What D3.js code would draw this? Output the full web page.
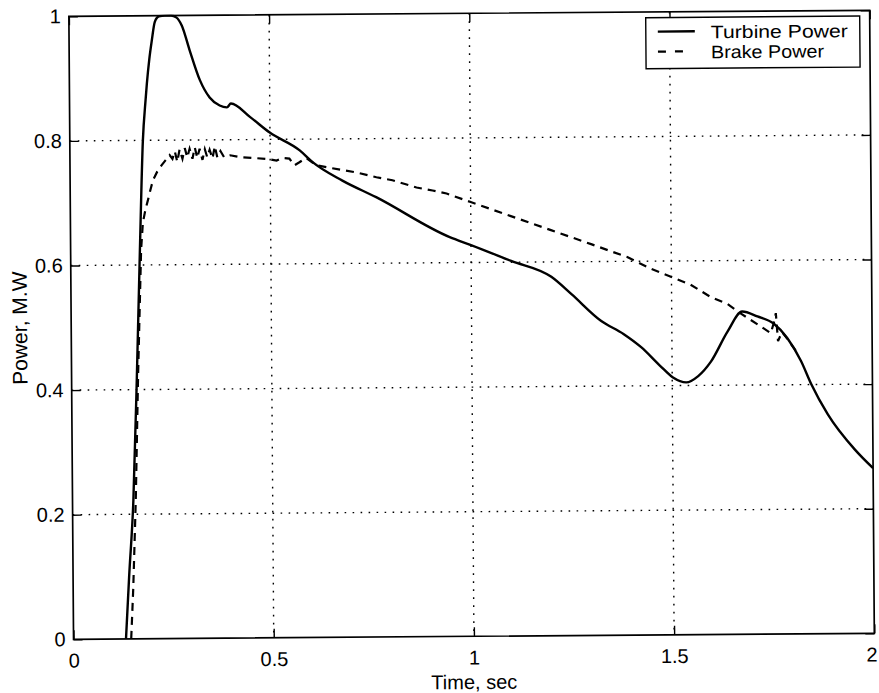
<!DOCTYPE html>
<html>
<head>
<meta charset="utf-8">
<script src="https://cdn.jsdelivr.net/npm/d3@7"></script>
<style>
  html, body { margin: 0; padding: 0; background: #fff; }
  svg { display: block; }
  text { font-family: "Liberation Sans", Arial, Helvetica, sans-serif; fill: #000; }
</style>
</head>
<body>
<svg id="chart" width="879" height="693"></svg>
<script>
// Turbine and brake power traces, [time (s), power (MW)]
const turbinePower = [
  [0.131,0],[0.140,0.10],[0.152,0.222],[0.163,0.42],[0.173,0.624],[0.1825,0.80],
  [0.190,0.865],[0.1935,0.891],[0.200,0.930],[0.2066,0.960],[0.2145,0.990],[0.225,0.999],
  [0.240,1.0],[0.255,1.0],[0.268,0.997],[0.2817,0.984],[0.301,0.944],[0.326,0.896],
  [0.350,0.868],[0.375,0.855],[0.393,0.852],[0.403,0.858],[0.451,0.836],[0.4995,0.811],
  [0.574,0.782],[0.606,0.763],[0.680,0.733],[0.764,0.706],[0.947,0.641],[1.0,0.628],
  [1.1,0.602],[1.2,0.576],[1.25,0.548],[1.323,0.505],[1.38,0.483],[1.423,0.462],
  [1.47,0.432],[1.502,0.413],[1.535,0.405],[1.565,0.415],[1.597,0.438],[1.639,0.486],
  [1.676,0.518],[1.714,0.510],[1.755,0.498],[1.788,0.475],[1.822,0.438],[1.847,0.401],
  [1.888,0.352],[1.955,0.295],[2.0,0.265]
];
const brakePower = [
  [0.144,0],[0.150,0.08],[0.158,0.222],[0.166,0.42],[0.176,0.624],[0.181,0.668],
  [0.188,0.690],[0.194,0.704],[0.201,0.722],[0.207,0.736],[0.218,0.750],[0.229,0.760],
  [0.239,0.768],[0.249,0.776],[0.256,0.770],[0.262,0.782],[0.268,0.765],[0.274,0.785],
  [0.281,0.770],[0.287,0.787],[0.293,0.772],[0.299,0.786],[0.306,0.770],[0.312,0.788],
  [0.318,0.771],[0.324,0.786],[0.331,0.768],[0.337,0.785],[0.343,0.772],[0.349,0.784],
  [0.356,0.770],[0.362,0.790],[0.368,0.772],[0.376,0.782],[0.385,0.772],[0.400,0.775],
  [0.424,0.772],[0.466,0.770],[0.500,0.768],[0.516,0.766],[0.530,0.770],[0.548,0.769],
  [0.560,0.758],[0.573,0.763],[0.590,0.770],[0.615,0.758],[0.655,0.753],[0.715,0.746],
  [0.765,0.738],[0.805,0.733],[0.865,0.721],[0.905,0.716],[0.940,0.711],[1.0,0.697],
  [1.1,0.674],[1.2,0.651],[1.3,0.628],[1.355,0.615],[1.39,0.607],[1.448,0.588],
  [1.497,0.575],[1.547,0.562],[1.597,0.542],[1.640,0.530],[1.672,0.515],[1.722,0.494],
  [1.747,0.483],[1.755,0.500],[1.760,0.515],[1.765,0.470],[1.775,0.485],[1.789,0.473],
  [1.814,0.450]
];
const xTicks = [0, 0.5, 1, 1.5, 2];
const yTicks = [0, 0.2, 0.4, 0.6, 0.8, 1];
const legendLabels = ["Turbine Power", "Brake Power"];
const xLabel = "Time, sec";
const yLabel = "Power, M.W";

const svg = d3.select("#chart");
const L = 71.2, R = 872, T = 13.3, B = 636.3;
const cx = (L + R) / 2, cy = (T + B) / 2;

const x = d3.scaleLinear().domain([0, 2]).range([L, R]);
const y = d3.scaleLinear().domain([0, 1]).range([B, T]);

// the printed figure sits slightly askew on the page
const g = svg.append("g").attr("transform", `rotate(-0.43, ${cx}, ${cy})`);

svg.append("defs").append("clipPath").attr("id", "plotClip")
  .append("rect").attr("x", L).attr("y", T - 1).attr("width", R - L).attr("height", B - T + 1);

// dotted grid
const grid = g.append("g").attr("stroke", "#000").attr("stroke-width", 1.4)
  .attr("stroke-dasharray", "1.6,6.4").attr("fill", "none");
xTicks.slice(1, -1).forEach(t => {
  grid.append("line").attr("x1", x(t)).attr("x2", x(t)).attr("y1", T).attr("y2", B);
});
yTicks.slice(1, -1).forEach(t => {
  grid.append("line").attr("x1", L).attr("x2", R).attr("y1", y(t)).attr("y2", y(t));
});

// curves
const lineGen = d3.line().x(d => x(d[0])).y(d => y(d[1]));
const plot = g.append("g").attr("clip-path", "url(#plotClip)");
plot.append("path").datum(brakePower)
  .attr("d", lineGen.curve(d3.curveLinear))
  .attr("fill", "none").attr("stroke", "#000").attr("stroke-width", 2.2)
  .attr("stroke-dasharray", "8,6");
plot.append("path").datum(turbinePower)
  .attr("d", lineGen.curve(d3.curveMonotoneX))
  .attr("fill", "none").attr("stroke", "#000").attr("stroke-width", 2.4);

// axes with inward ticks on all four sides
const tickLen = 9;
const axBottom = d3.axisBottom(x).tickValues(xTicks).tickSize(-tickLen).tickPadding(14)
  .tickFormat(d => String(d));
const axTop = d3.axisTop(x).tickValues(xTicks).tickSize(-tickLen).tickFormat("");
const axLeft = d3.axisLeft(y).tickValues(yTicks).tickSize(-tickLen).tickPadding(8)
  .tickFormat(d => String(d));
const axRight = d3.axisRight(y).tickValues(yTicks).tickSize(-tickLen).tickFormat("");

function styleAxis(sel) {
  sel.select(".domain").remove();
  sel.selectAll(".tick line").attr("stroke", "#000").attr("stroke-width", 1.4);
  sel.selectAll(".tick text").style("font-size", "20px").attr("fill", "#000");
}
g.append("g").attr("transform", `translate(0,${B})`).call(axBottom).call(styleAxis)
  .selectAll(".tick text").attr("dx", d => d === 2 ? "-3" : null);
g.append("g").attr("transform", `translate(0,${T})`).call(axTop).call(styleAxis);
g.append("g").attr("transform", `translate(${L},0)`).call(axLeft).call(styleAxis);
g.append("g").attr("transform", `translate(${R},0)`).call(axRight).call(styleAxis);

// frame
g.append("rect").attr("x", L).attr("y", T).attr("width", R - L).attr("height", B - T)
  .attr("fill", "none").attr("stroke", "#000").attr("stroke-width", 1.7);

// axis titles
g.append("text").attr("x", cx).attr("y", 689).attr("text-anchor", "middle")
  .style("font-size", "20px").text(xLabel);
g.append("text").attr("transform", `translate(27,${cy}) rotate(-90)`)
  .attr("text-anchor", "middle").style("font-size", "21px").text(yLabel);

// legend
const lg = g.append("g");
const lx0 = 648, ly0 = 19, lw = 214, lh = 51;
lg.append("rect").attr("x", lx0).attr("y", ly0).attr("width", lw).attr("height", lh)
  .attr("fill", "#fff").attr("stroke", "#000").attr("stroke-width", 1.4);
lg.append("line").attr("x1", lx0 + 12).attr("x2", lx0 + 49).attr("y1", ly0 + 14).attr("y2", ly0 + 14)
  .attr("stroke", "#000").attr("stroke-width", 2.4);
lg.append("line").attr("x1", lx0 + 12).attr("x2", lx0 + 37).attr("y1", ly0 + 34).attr("y2", ly0 + 34)
  .attr("stroke", "#000").attr("stroke-width", 2.2).attr("stroke-dasharray", "8,9");
lg.append("text").attr("x", lx0 + 65).attr("y", ly0 + 21).style("font-size", "18px")
  .attr("textLength", 137).attr("lengthAdjust", "spacingAndGlyphs").text(legendLabels[0]);
lg.append("text").attr("x", lx0 + 65).attr("y", ly0 + 41).style("font-size", "18px")
  .attr("textLength", 113).attr("lengthAdjust", "spacingAndGlyphs").text(legendLabels[1]);
</script>
</body>
</html>
